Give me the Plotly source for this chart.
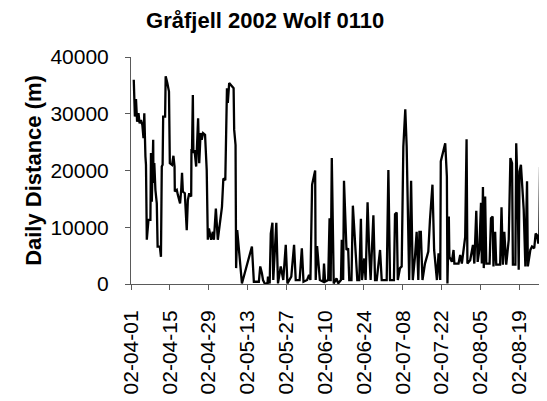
import pandas as pd
import plotly.graph_objects as go

# Day offsets from 2002-04-01 and the daily distance (m) at each fix
days = [
    1.0, 1.4, 1.8, 2.2, 2.7, 3.1, 3.6, 4.1, 4.5, 4.8, 5.2, 5.4, 5.7, 6.3, 7.0,
    7.2, 7.5, 8.0, 8.1, 8.4, 8.8, 9.3, 9.6, 10.4, 10.8, 11.1, 11.4, 11.6, 12.3,
    12.5, 13.1, 13.7, 14.0, 14.8, 15.3, 15.7, 15.8, 16.5, 16.9, 17.5, 17.7,
    18.1, 18.4, 18.7, 19.4, 20.1, 20.5, 21.0, 21.7, 21.8, 22.0, 22.3, 22.5,
    22.9, 23.5, 24.2, 24.6, 25.1, 25.5, 26.0, 26.7, 27.3, 27.7, 28.1, 28.9,
    29.5, 29.9, 30.6, 31.3, 32.8, 33.3, 34.0, 34.6, 34.9, 35.4, 37.0, 37.2,
    37.7, 37.9, 38.3, 40.0, 43.6, 44.3, 46.1, 46.6, 47.2, 47.6, 48.2, 49.2,
    49.4, 50.0, 50.4, 51.0, 51.3, 51.8, 52.4, 53.0, 54.0, 54.9, 55.8, 56.4,
    57.8, 58.8, 59.4, 60.8, 61.6, 62.2, 63.5, 64.2, 64.7, 65.3, 65.9, 66.4,
    66.6, 67.1, 68.1, 69.3, 69.6, 70.0, 71.1, 71.6, 71.9, 72.0, 72.4, 73.1,
    74.1, 74.7, 75.7, 76.0, 76.5, 76.8, 77.7, 78.3, 78.7, 79.5, 80.0, 81.1,
    81.6, 82.3, 82.9, 83.3, 84.1, 84.6, 85.3, 85.9, 86.4, 87.4, 88.0, 88.6,
    89.8, 90.4, 92.2, 92.8, 93.4, 94.8, 95.2, 95.8, 96.2, 97.0, 97.6, 98.2,
    98.9, 99.4, 100.3, 101.0, 101.6, 102.4, 103.0, 103.6, 104.0, 104.5, 105.1,
    106.0, 107.2, 107.8, 108.7, 109.3, 110.3, 110.9, 111.5, 111.7, 113.3,
    113.9, 114.1, 114.6, 114.8, 115.7, 116.3, 116.6, 118.1, 118.7, 119.3,
    120.5, 121.0, 121.3, 122.3, 123.3, 123.8, 124.5, 125.0, 125.6, 126.2,
    126.5, 126.9, 127.2, 127.7, 128.1, 129.3, 129.8, 130.4, 130.7, 131.3,
    131.7, 133.1, 133.6, 134.1, 134.6, 135.3, 136.2, 136.8, 137.4, 137.7,
    138.6, 138.9, 139.4, 139.8, 140.1, 140.6, 141.6, 142.2, 142.8, 143.1,
    144.0, 144.6, 145.4, 145.9, 146.4, 146.8, 147.2, 147.5, 147.9, 150.0,
]
distance = [
    36000, 29500, 32600, 28600, 30100, 28300, 28900, 28000, 25700, 30100,
    22500, 21000, 7800, 11300, 11300, 23100, 14500, 25400, 17800, 21300,
    16600, 14200, 6600, 6600, 4800, 20700, 21000, 29500, 29500, 36600, 35400,
    33900, 21300, 21000, 22600, 20700, 16300, 16600, 15700, 14800, 14200,
    16600, 19600, 16300, 16000, 9500, 14800, 16000, 15400, 23600, 23600,
    33300, 23100, 23600, 20700, 29200, 21300, 26600, 25400, 26600, 26300,
    20100, 7800, 9800, 7800, 9200, 7800, 13300, 7800, 13600, 18600, 18300,
    34500, 31900, 35400, 34500, 27200, 24500, 2800, 9500, 100, 6600, 400, 400,
    3100, 1900, 700, 100, 0, 1300, 100, 8900, 10800, 700, 6000, 10800, 100,
    3100, 700, 6900, 100, 1300, 6900, 700, 700, 6300, 400, 700, 1600, 700,
    17500, 19200, 20000, 700, 6700, 700, 400, 3600, 400, 700, 11600, 700, 700,
    22200, 100, 1000, 100, 700, 7800, 700, 18200, 6000, 6300, 700, 700, 13800,
    4200, 700, 700, 11500, 700, 4500, 700, 14400, 5700, 700, 12100, 700, 700,
    6000, 700, 700, 20100, 700, 700, 12300, 12600, 700, 2800, 3100, 24200,
    30800, 24200, 700, 18200, 700, 4800, 9200, 700, 9200, 9200, 700, 3600,
    5700, 11300, 17500, 6000, 700, 5400, 700, 21600, 24800, 18900, 100, 11900,
    4800, 3900, 6000, 3600, 3600, 5100, 3600, 8300, 25500, 3600, 4200, 6900,
    3600, 12900, 3900, 6000, 14300, 3600, 17100, 2800, 15400, 3600, 3600,
    11600, 11900, 3100, 9200, 3400, 3400, 13500, 3400, 9200, 3400, 7800,
    22200, 21300, 3400, 3400, 24800, 16900, 2500, 19800, 21000, 13100, 3100,
    18100, 3100, 6000, 6600, 6300, 8900, 8600, 7300, 7300, 20600, 7300, 7300,
]

START = pd.Timestamp("2002-04-01")
dates = START + pd.to_timedelta(days, unit="D")

_FONT = "Liberation Sans, Arial, sans-serif"
_AXIS_COLOR = "#5a5a5a"

fig = go.Figure(
    go.Scatter(
        x=dates,
        y=distance,
        mode="lines",
        line=dict(color="black", width=2.3),
        hoverinfo="x+y",
    )
)

fig.update_xaxes(
    type="date",
    range=[START, START + pd.Timedelta(days=150)],
    tick0=START,
    dtick=14 * 86400000,
    tickformat="%y-%m-%d",
    tickangle=-90,
    ticks="outside",
    ticklen=5,
    tickcolor=_AXIS_COLOR,
    ticklabelstandoff=12,
    showline=True,
    linecolor=_AXIS_COLOR,
    linewidth=1,
    showgrid=False,
    zeroline=False,
    tickfont=dict(size=21, color="black", family=_FONT),
)

fig.update_yaxes(
    range=[0, 40000],
    dtick=10000,
    tickformat="d",
    ticks="outside",
    ticklen=5,
    tickcolor=_AXIS_COLOR,
    ticklabelstandoff=12,
    showline=True,
    linecolor=_AXIS_COLOR,
    linewidth=1,
    showgrid=False,
    zeroline=False,
    tickfont=dict(size=21, color="black", family=_FONT),
    title=dict(
        text="<b>Daily Distance (m)</b>",
        font=dict(size=22, color="black", family=_FONT),
        standoff=2,
    ),
)

# the page body adds an 8px offset, so the figure is 8px smaller than the window
fig.update_layout(
    width=539,
    height=393,
    title=dict(
        text="<b>Gråfjell 2002 Wolf 0110</b>",
        x=0.477,
        xanchor="center",
        y=0.97,
        yanchor="middle",
        font=dict(size=22, color="black", family=_FONT),
    ),
    font=dict(family=_FONT, color="black"),
    plot_bgcolor="white",
    paper_bgcolor="white",
    margin=dict(l=123, r=0, t=49, b=117),
    showlegend=False,
)

fig.write_html("out.html")
